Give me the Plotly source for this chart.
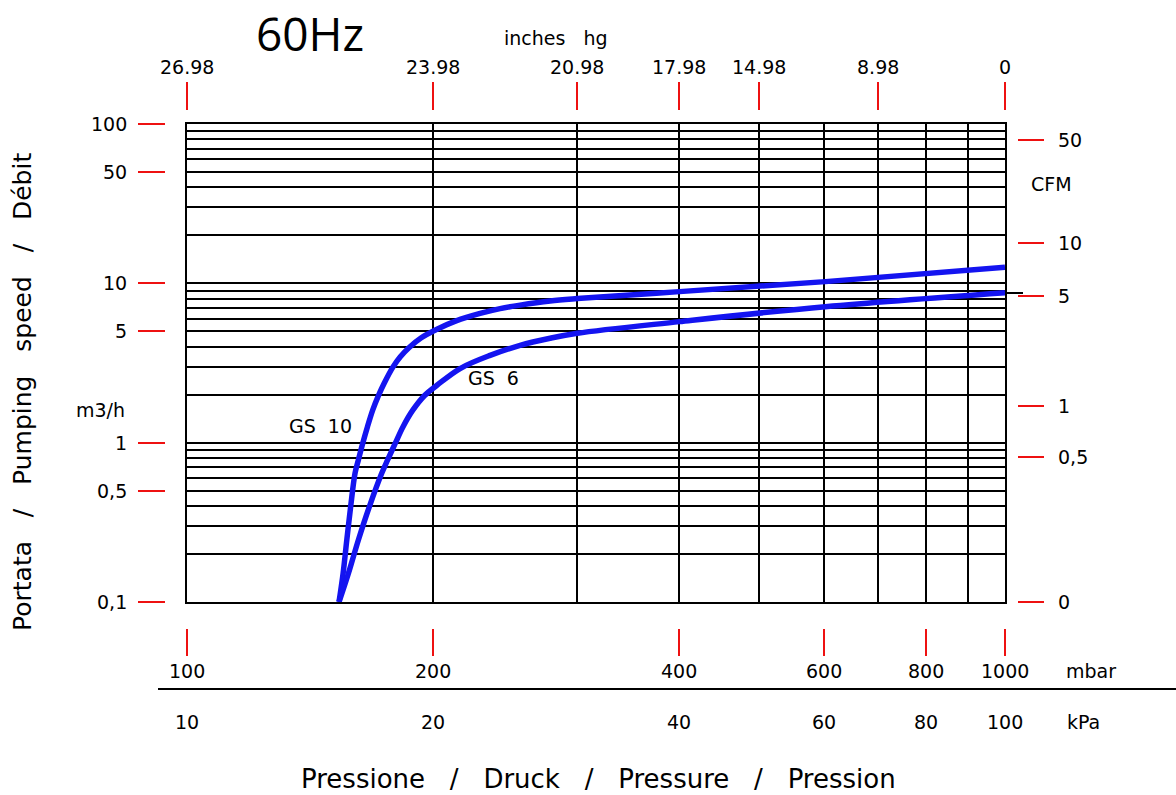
import numpy as np
import plotly.graph_objects as go

# ---------------- data ----------------
gs10_mbar = [153.4, 155.2, 156.8, 158.5, 160.5, 162.0, 164.0, 166.2, 168.7, 171.4,
             174.2, 178.6, 182.2, 186.9, 193.2, 202.1, 213.3, 228.2, 241.4, 255.4,
             277.9, 300, 400, 603, 1000]
gs10_m3h = [0.1, 0.152, 0.245, 0.395, 0.645, 0.779, 0.991, 1.26, 1.605, 1.972,
            2.36, 2.99, 3.45, 3.96, 4.54, 5.15, 5.81, 6.47, 6.94, 7.30,
            7.75, 8.02, 8.87, 10.25, 12.62]

gs6_mbar = [153.4, 157.5, 162.0, 167.1, 173.0, 175.9, 179.8, 183.7, 188.9, 195.2,
            202.3, 215.7, 234.7, 255.4, 277.9, 300, 400, 603, 1000]
gs6_m3h = [0.1, 0.151, 0.245, 0.397, 0.642, 0.779, 0.996, 1.26, 1.605, 1.978,
           2.30, 2.92, 3.53, 4.08, 4.52, 4.86, 5.75, 7.14, 8.74]

grid_mbar = [100, 200, 300, 400, 500, 600, 700, 800, 900, 1000]
grid_m3h = [0.1, 0.2, 0.3, 0.4, 0.5, 0.6, 0.7, 0.8, 0.9,
            1, 2, 3, 4, 5, 6, 7, 8, 9,
            10, 20, 30, 40, 50, 60, 70, 80, 90, 100]

mbar_ticks = [100, 200, 400, 600, 800, 1000]
mbar_labels = ["100", "200", "400", "600", "800", "1000"]
kpa_labels = ["10", "20", "40", "60", "80", "100"]

inhg_ticks = [100, 200, 300, 400, 500, 700, 1000]
inhg_labels = ["26.98", "23.98", "20.98", "17.98", "14.98", "8.98", "0"]

m3h_ticks = [100, 50, 10, 5, 1, 0.5, 0.1]
m3h_labels = ["100", "50", "10", "5", "1", "0,5", "0,1"]

cfm_ticks_m3h = [79, 17.9, 8.3, 1.69, 0.81, 0.1]
cfm_labels = ["50", "10", "5", "1", "0,5", "0"]

ref_stub_m3h = [8.7]

curve_names = ["GS\u00a0\u00a010", "GS\u00a0\u00a06"]
curve_label_mbar = [145.8, 237.2]
curve_label_m3h = [1.27, 2.54]

# ---------------- layout constants ----------------
W, H = 1176, 795
X0, X1 = 187 / W, 1005 / W
Y0, Y1 = 1 - 602 / H, 1 - 124 / H
RED = "#ee1111"
BLUE = "#1414f0"
FONT = "DejaVu Sans"

fig = go.Figure()

for xs, ys in [(gs10_mbar, gs10_m3h), (gs6_mbar, gs6_m3h)]:
    fig.add_trace(go.Scatter(x=xs, y=ys, mode="lines",
                             line=dict(color=BLUE, width=5.5, shape="spline", smoothing=1.0),
                             hoverinfo="skip"))

# invisible helper traces so the overlay axes get drawn
for xa, ya in [("x2", "y"), ("x3", "y"), ("x", "y2"), ("x", "y3"), ("x", "y4")]:
    fig.add_trace(go.Scatter(x=[300], y=[1], xaxis=xa, yaxis=ya, mode="markers",
                             marker=dict(opacity=0), hoverinfo="skip"))

common_main = dict(showticklabels=False, ticks="", showgrid=True, gridcolor="black",
                   gridwidth=1.7, showline=True, linecolor="black", linewidth=1.7,
                   mirror=True, zeroline=False, fixedrange=True)
common_red = dict(showticklabels=False, ticks="outside", tickwidth=2, tickcolor=RED,
                  showgrid=False, showline=False, zeroline=False, fixedrange=True,
                  anchor="free")

fig.update_layout(
    width=W, height=H, margin=dict(l=0, r=0, t=0, b=0),
    paper_bgcolor="white", plot_bgcolor="white", showlegend=False,
    font=dict(family=FONT, size=19, color="black"),
    xaxis=dict(type="log", range=[2, 3], domain=[X0, X1], anchor="y",
               tickvals=grid_mbar, **common_main),
    yaxis=dict(type="log", range=[-1, 2], domain=[Y0, Y1], anchor="x",
               tickvals=grid_m3h, **common_main),
    xaxis2=dict(type="log", range=[2, 3], overlaying="x", side="bottom",
                position=1 - 628 / H, tickvals=mbar_ticks, ticklen=27, **common_red),
    xaxis3=dict(type="log", range=[2, 3], overlaying="x", side="top",
                position=1 - 110 / H, tickvals=inhg_ticks, ticklen=28, **common_red),
    yaxis2=dict(type="log", range=[-1, 2], overlaying="y", side="left",
                position=165 / W, tickvals=m3h_ticks, ticklen=27, **common_red),
    yaxis3=dict(type="log", range=[-1, 2], overlaying="y", side="right",
                position=1017 / W, tickvals=cfm_ticks_m3h, ticklen=26, **common_red),
    yaxis4=dict(type="log", range=[-1, 2], overlaying="y", side="right",
                position=1005 / W, tickvals=ref_stub_m3h, ticklen=17,
                showticklabels=False, ticks="outside", tickwidth=1.5, tickcolor="black",
                showgrid=False, showline=False, zeroline=False, fixedrange=True,
                anchor="free"),
)

C = dict(showarrow=False, xanchor="center", yanchor="middle")
ann = []
# top inches hg labels
for v, t in zip(inhg_ticks, inhg_labels):
    ann.append(dict(x=np.log10(v), xref="x", y=1 - 67 / H, yref="paper", text=t, **C))
# bottom mbar and kPa labels
for v, t, k in zip(mbar_ticks, mbar_labels, kpa_labels):
    ann.append(dict(x=np.log10(v), xref="x", y=1 - 671 / H, yref="paper", text=t, **C))
    ann.append(dict(x=np.log10(v), xref="x", y=1 - 722 / H, yref="paper", text=k, **C))
# left m3/h labels
for v, t in zip(m3h_ticks, m3h_labels):
    ann.append(dict(x=129 / W, xref="paper", y=np.log10(v), yref="y", text=t,
                    showarrow=False, xanchor="right", yanchor="middle"))
# right CFM labels
for v, t in zip(cfm_ticks_m3h, cfm_labels):
    ann.append(dict(x=1056 / W, xref="paper", y=np.log10(v), yref="y", text=t,
                    showarrow=False, xanchor="left", yanchor="middle"))
# curve labels
for nm, px, py in zip(curve_names, curve_label_mbar, curve_label_m3h):
    ann.append(dict(x=np.log10(px), xref="x", y=np.log10(py), yref="y", text=nm, **C))

sp3 = "\u00a0\u00a0\u00a0"
ann += [
    dict(x=310 / W, y=1 - 33 / H, xref="paper", yref="paper", text="60Hz",
         font=dict(family="Open Sans", size=46), **C),
    dict(x=556 / W, y=1 - 38 / H, xref="paper", yref="paper",
         text="inches\u00a0\u00a0\u00a0hg", font=dict(size=19), **C),
    dict(x=1091 / W, y=1 - 671 / H, xref="paper", yref="paper", text="mbar", **C),
    dict(x=1083 / W, y=1 - 722 / H, xref="paper", yref="paper", text="kPa", **C),
    dict(x=100 / W, y=1 - 410 / H, xref="paper", yref="paper", text="m3/h", **C),
    dict(x=1051 / W, y=1 - 184 / H, xref="paper", yref="paper", text="CFM", **C),
    dict(x=598 / W, y=1 - 779 / H, xref="paper", yref="paper",
         text="Pressione" + sp3 + "/" + sp3 + "Druck" + sp3 + "/" + sp3 + "Pressure"
              + sp3 + "/" + sp3 + "Pression",
         font=dict(size=26), **C),
    dict(x=22 / W, y=1 - 392 / H, xref="paper", yref="paper", textangle=-90,
         text="Portata" + sp3 + "/" + sp3 + "Pumping" + sp3 + "speed" + sp3 + "/"
              + sp3 + "Débit",
         font=dict(size=25), **C),
]
fig.update_layout(annotations=ann)

fig.add_shape(type="line", xref="paper", yref="paper", x0=158 / W, x1=1.0,
              y0=1 - 689 / H, y1=1 - 689 / H, line=dict(color="black", width=2))

fig.write_html("out.html", config={"displayModeBar": False},
               post_script="document.body.style.margin='0';document.body.style.overflow='hidden';")
